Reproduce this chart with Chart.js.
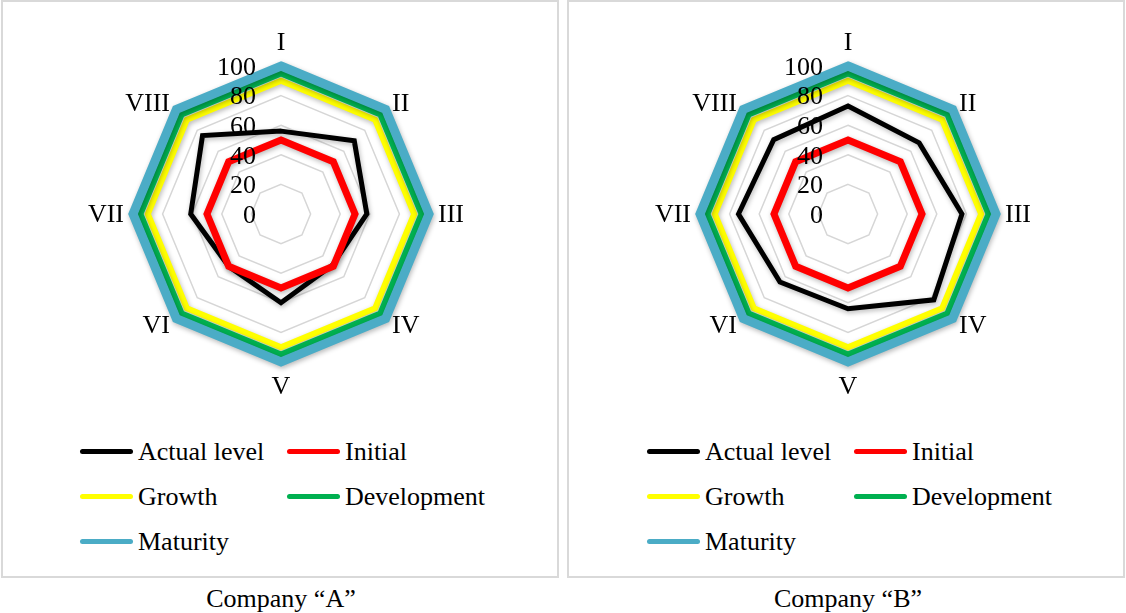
<!DOCTYPE html>
<html>
<head>
<meta charset="utf-8">
<script src="https://cdn.jsdelivr.net/npm/chart.js@4/dist/chart.umd.min.js"></script>
<style>
  html, body { margin: 0; padding: 0; background: #fff; }
  body { width: 1126px; height: 613px; position: relative; overflow: hidden;
         font-family: "Liberation Serif", "Times New Roman", serif; color: #000; }
  .panel { position: absolute; top: 0; width: 554px; height: 574px;
           border: 2px solid #d9d9d9; background: #fff; }
  .radar { position: absolute; }
  .legend-item { position: absolute; height: 30px; font-size: 26px; line-height: 30px; white-space: nowrap; }
  .legend-item .swatch { position: absolute; left: 0; top: 12px; width: 53px; height: 5px; border-radius: 3px; }
  .legend-item .name { position: absolute; left: 58px; top: 0; }
  .caption { position: absolute; top: 584px; width: 400px; text-align: center; font-size: 26px; line-height: 30px; }
</style>
</head>
<body>
<div class="panel" style="left:1px"></div>
<div class="panel" style="left:567px"></div>
<canvas id="radarA" class="radar" width="436" height="412" style="left:63px;top:0px"></canvas>
<canvas id="radarB" class="radar" width="436" height="412" style="left:630px;top:0px"></canvas>
<div id="legendA"></div>
<div id="legendB"></div>
<div class="caption" style="left:81px">Company “A”</div>
<div class="caption" style="left:648px">Company “B”</div>

<script>
// Axes of the assessment
const axisLabels = ['I', 'II', 'III', 'IV', 'V', 'VI', 'VII', 'VIII'];

// Radial scale ticks
const scaleMin = 0;
const scaleMax = 100;
const scaleStep = 20;

// Series
const seriesNames  = ['Actual level', 'Initial', 'Growth', 'Development', 'Maturity'];
const seriesColors = ['#000000', '#FF0000', '#FFFF00', '#00B050', '#4BACC6'];
const seriesWidths = [5, 7, 6, 6, 9];

const companyAActual = [56, 70, 58, 49, 60, 50, 61, 75];
const companyBActual = [73, 68, 77, 82, 64, 65, 74, 71];
const initialLevel     = [50, 50, 50, 50, 50, 50, 50, 50];
const growthLevel      = [90, 90, 90, 90, 90, 90, 90, 90];
const developmentLevel = [95, 95, 95, 95, 95, 95, 95, 95];
const maturityLevel    = [100, 100, 100, 100, 100, 100, 100, 100];

const FONT = '"Liberation Serif", "Times New Roman", serif';
const LABEL_FONT = '26px ' + FONT;

// Soft shadow under the series lines; tick values left of the vertical axis;
// axis names placed just outside the outer ring
const radarDecor = {
  id: 'radarDecor',
  beforeDatasetsDraw(chart) {
    const ctx = chart.ctx;
    ctx.save();
    ctx.shadowColor = 'rgba(0,0,0,0.28)';
    ctx.shadowBlur = 5;
    ctx.shadowOffsetX = 1;
    ctx.shadowOffsetY = 2;
  },
  afterDatasetsDraw(chart) {
    const ctx = chart.ctx;
    ctx.restore();
    const s = chart.scales.r;
    ctx.save();
    ctx.font = LABEL_FONT;
    ctx.fillStyle = '#000';

    // tick values
    ctx.textAlign = 'right';
    ctx.textBaseline = 'middle';
    s.ticks.forEach(t => {
      const d = s.getDistanceFromCenterForValue(t.value);
      ctx.fillText(t.label, s.xCenter - 25, s.yCenter - d + 2);
    });

    // axis names
    const gap = 9;
    const halfText = 15;
    chart.data.labels.forEach((label, i) => {
      const p = s.getPointPosition(i, s.drawingArea + gap);
      const a = s.getIndexAngle(i);
      const sx = Math.sin(a), cy = -Math.cos(a);
      let x = p.x, y = p.y + 1;
      if (sx > 0.01) ctx.textAlign = 'left';
      else if (sx < -0.01) ctx.textAlign = 'right';
      else ctx.textAlign = 'center';
      if (Math.abs(cy) > 0.99) y += cy * halfText;
      ctx.textBaseline = 'middle';
      ctx.fillText(label, x, y);
    });
    ctx.restore();
  }
};

function buildRadar(canvasId, actualValues) {
  const levels = [actualValues, initialLevel, growthLevel, developmentLevel, maturityLevel];
  const datasets = levels.map((vals, i) => ({
    label: seriesNames[i],
    data: vals,
    borderColor: seriesColors[i],
    backgroundColor: seriesColors[i],
    borderWidth: seriesWidths[i],
    borderJoinStyle: 'miter',
    fill: false,
    pointRadius: 0,
    pointHoverRadius: 0,
    tension: 0,
    order: levels.length - 1 - i
  }));
  return new Chart(document.getElementById(canvasId), {
    type: 'radar',
    data: { labels: axisLabels, datasets },
    options: {
      responsive: false,
      animation: false,
      events: [],
      layout: { padding: { left: 70, right: 70, top: 66, bottom: 50 } },
      plugins: { legend: { display: false }, tooltip: { enabled: false } },
      scales: {
        r: {
          min: scaleMin,
          max: scaleMax,
          ticks: { stepSize: scaleStep, display: false },
          angleLines: { display: false },
          grid: { color: '#d6d6d6', lineWidth: 1.5 },
          pointLabels: { display: false }
        }
      }
    },
    plugins: [radarDecor]
  });
}

function buildLegend(containerId, originX) {
  const rows = [452, 497, 542];
  const cols = [80, 287];
  const box = document.getElementById(containerId);
  seriesNames.forEach((name, i) => {
    const item = document.createElement('div');
    item.className = 'legend-item';
    item.style.left = (originX + cols[i % 2]) + 'px';
    item.style.top = (rows[Math.floor(i / 2)] - 15) + 'px';
    const sw = document.createElement('span');
    sw.className = 'swatch';
    sw.style.background = seriesColors[i];
    const tx = document.createElement('span');
    tx.className = 'name';
    tx.textContent = name;
    item.appendChild(sw);
    item.appendChild(tx);
    box.appendChild(item);
  });
}

buildRadar('radarA', companyAActual);
buildRadar('radarB', companyBActual);
buildLegend('legendA', 0);
buildLegend('legendB', 567);
</script>
</body>
</html>
